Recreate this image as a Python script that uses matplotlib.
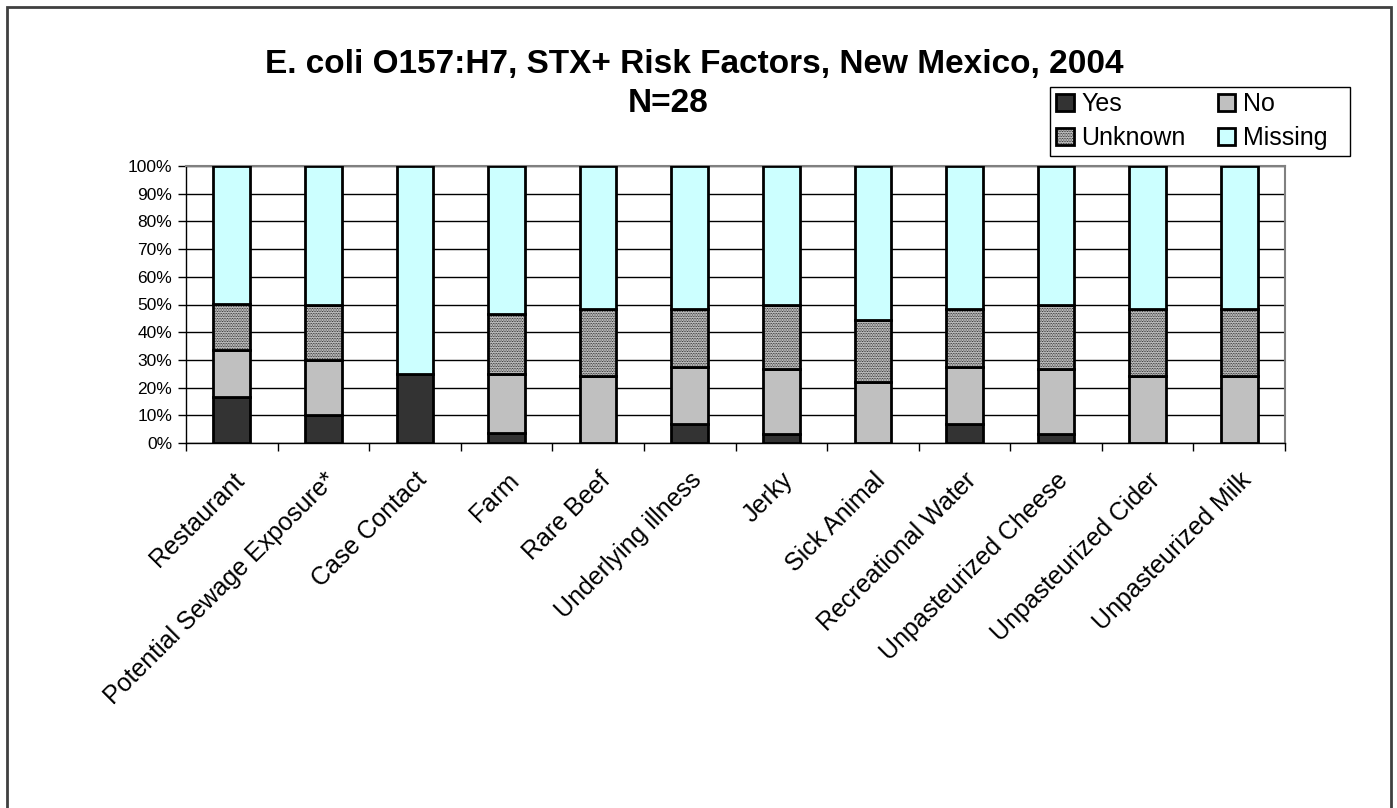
import matplotlib.pyplot as plt
import matplotlib.transforms as mtrans
from matplotlib.patches import Rectangle
import numpy as np

plt.rcParams['font.family'] = ['Liberation Sans', 'DejaVu Sans']
plt.rcParams['hatch.color'] = '#8f8f8f'
plt.rcParams['hatch.linewidth'] = 0.5

categories = ["Restaurant", "Potential Sewage Exposure*", "Case Contact", "Farm",
              "Rare Beef", "Underlying illness", "Jerky", "Sick Animal",
              "Recreational Water", "Unpasteurized Cheese", "Unpasteurized Cider",
              "Unpasteurized Milk"]
# percent of cases
yes = [16.7, 10.0, 25.0, 3.6, 0.0, 6.9, 3.3, 0.0, 6.9, 3.3, 0.0, 0.0]
no = [16.7, 20.0, 0.0, 21.4, 24.1, 20.7, 23.3, 22.2, 20.7, 23.3, 24.1, 24.1]
unknown = [16.7, 20.0, 0.0, 21.4, 24.1, 20.7, 23.3, 22.2, 20.7, 23.3, 24.1, 24.1]
missing = [50.0, 50.0, 75.0, 53.6, 51.7, 51.7, 50.0, 55.6, 51.7, 50.0, 51.7, 51.7]
series_names = ["Yes", "No", "Unknown", "Missing"]

W, H = 1397, 808
fig = plt.figure(figsize=(W/100, H/100), dpi=100)
ax = fig.add_axes([186/W, 1-443/H, (1285-186)/W, (443-166)/H])

x = np.arange(len(categories))
bw = 0.4
lw = 2.0
bottom = np.zeros(len(categories))
b1 = ax.bar(x, yes, bw, bottom=bottom, color='#333333', edgecolor='black', linewidth=lw, zorder=3)
bottom += yes
b2 = ax.bar(x, no, bw, bottom=bottom, color='#c0c0c0', edgecolor='black', linewidth=lw, zorder=3)
bottom += no
b3 = ax.bar(x, unknown, bw, bottom=bottom, color='#d0d0d0', edgecolor='black', linewidth=lw,
            hatch='..........', zorder=3)
bottom += unknown
b4 = ax.bar(x, missing, bw, bottom=bottom, color='#ccffff', edgecolor='black', linewidth=lw, zorder=3)

ax.set_xlim(-0.5, len(categories)-0.5)
ax.set_ylim(0, 100)
ax.set_yticks(np.arange(0, 101, 10))
ax.set_yticklabels([f"{v}%" for v in range(0, 101, 10)], fontsize=12.5)
ax.yaxis.grid(True, color='black', linewidth=1.0, zorder=0)
ax.set_axisbelow(True)

ax.set_xticks(np.arange(-0.5, len(categories), 1.0))
ax.set_xticklabels([])
ax.set_xticks(x, minor=True)
ax.set_xticklabels(categories, minor=True, rotation=45, ha='right', va='top',
                   rotation_mode='anchor', fontsize=18)
shift = mtrans.ScaledTranslation(-12/100, 0, fig.dpi_scale_trans)
for lab in ax.get_xticklabels(minor=True):
    lab.set_transform(lab.get_transform() + shift)
ax.tick_params(axis='x', which='major', length=6, width=1, direction='out', color='black')
ax.tick_params(axis='x', which='minor', length=0, pad=18)
ax.tick_params(axis='y', length=6, width=1, direction='out', pad=4)

for s in ['top', 'right']:
    ax.spines[s].set_color('#808080')
    ax.spines[s].set_linewidth(1.5)
for s in ['left', 'bottom']:
    ax.spines[s].set_color('black')
    ax.spines[s].set_linewidth(1.0)

fig.text(694/W, 1-64/H, "E. coli O157:H7, STX+ Risk Factors, New Mexico, 2004",
         ha='center', va='center', fontsize=24, fontweight='bold')
fig.text(668/W, 1-104/H, "N=28", ha='center', va='center', fontsize=24, fontweight='bold')

# legend filled row by row: Yes, No / Unknown, Missing
leg = fig.legend([b1, b3, b2, b4], [series_names[0], series_names[2], series_names[1], series_names[3]],
                 ncol=2, loc='center left', bbox_to_anchor=(1056/W, 1-121/H), fontsize=18,
                 frameon=False, handlelength=0.7, handleheight=0.7, handletextpad=0.3,
                 columnspacing=1.3, borderpad=0, borderaxespad=0, labelspacing=0.4)
fig.patches.append(Rectangle((1050/W, 1-156/H), (1350-1050)/W, (156-87)/H,
                             transform=fig.transFigure, fill=False, edgecolor='black', linewidth=1))

# outer chart frame
fig.patches.append(Rectangle((7/W, -0.05), (1391-7)/W, 1.05-7/H, transform=fig.transFigure,
                             fill=False, edgecolor='#404040', linewidth=2))

plt.savefig("out.png", dpi=100)
